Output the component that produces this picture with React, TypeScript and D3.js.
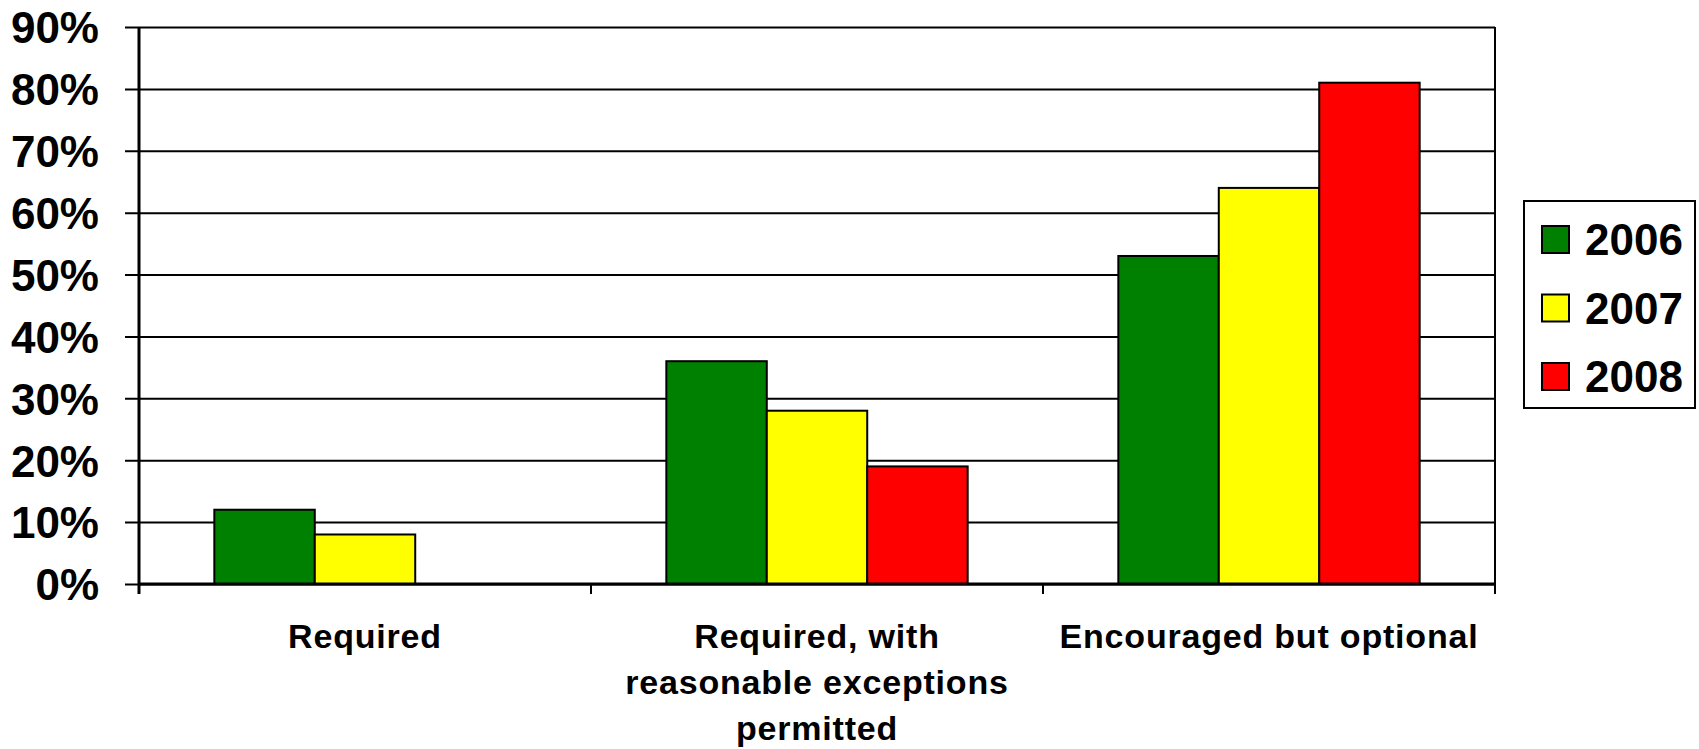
import { useRef, useEffect } from "react";
import { select, scaleBand, scaleLinear, axisLeft, range } from "d3";

// Data
const categories = ["Required", "Required, with reasonable exceptions permitted", "Encouraged but optional"];
const categoryLines = [["Required"], ["Required, with", "reasonable exceptions", "permitted"], ["Encouraged but optional"]];
const years = ["2006", "2007", "2008"];
const values2006 = [12, 36, 53];
const values2007 = [8, 28, 64];
const values2008 = [0, 19, 81];
const yTicks = [0, 10, 20, 30, 40, 50, 60, 70, 80, 90];
const colors = ["#008000", "#ffff00", "#ff0000"];

const W = 1699;
const H = 749;
const FONT = "'Liberation Sans', Arial, sans-serif";

export default function App() {
  const svgRef = useRef<SVGSVGElement | null>(null);

  useEffect(() => {
    const svg = select(svgRef.current);
    svg.selectAll("*").remove();

    const left = 139;
    const right = 1495;
    const top = 27;
    const bottom = 584;

    // Scales
    const x0 = scaleBand<string>().domain(categories).range([left, right]).paddingInner(0).paddingOuter(0);
    const x1 = scaleBand<string>().domain(years).range([0, x0.bandwidth()]).paddingInner(0).paddingOuter(0.75);
    const y = scaleLinear().domain([0, 90]).range([bottom, top]);

    // Gridlines + y ticks
    const yAxis = axisLeft(y)
      .tickValues(yTicks)
      .tickSize(-(right - left))
      .tickSizeOuter(0)
      .tickFormat((d) => `${d}%`);
    const gy = svg.append("g").attr("transform", `translate(${left},0)`).call(yAxis);
    gy.select(".domain").remove();
    gy.selectAll(".tick line").attr("stroke", "#000").attr("stroke-width", 2).attr("x1", -14);
    gy.selectAll(".tick text")
      .attr("x", -40)
      .attr("dy", "0.36em")
      .attr("fill", "#000")
      .attr("font-family", FONT)
      .attr("font-weight", "bold")
      .attr("font-size", 44);

    // Bars
    const seriesValues = [values2006, values2007, values2008];
    const barData = categories.flatMap((c, ci) =>
      years.map((yr, si) => ({ c, yr, si, v: seriesValues[si][ci] }))
    ).filter((d) => d.v > 0);

    svg
      .append("g")
      .selectAll("rect")
      .data(barData)
      .join("rect")
      .attr("x", (d) => x0(d.c)! + x1(d.yr)!)
      .attr("y", (d) => y(d.v))
      .attr("width", x1.bandwidth())
      .attr("height", (d) => y(0) - y(d.v))
      .attr("fill", (d) => colors[d.si])
      .attr("stroke", "#000")
      .attr("stroke-width", 2);

    // Axes lines
    svg.append("line").attr("x1", left).attr("x2", left).attr("y1", top).attr("y2", bottom + 10)
      .attr("stroke", "#000").attr("stroke-width", 3);
    svg.append("line").attr("x1", right).attr("x2", right).attr("y1", top).attr("y2", bottom)
      .attr("stroke", "#000").attr("stroke-width", 2);
    svg.append("line").attr("x1", left).attr("x2", right).attr("y1", bottom).attr("y2", bottom)
      .attr("stroke", "#000").attr("stroke-width", 3);

    // Category boundary ticks
    const boundaries = range(categories.length + 1).map((i) => left + i * x0.step());
    svg.append("g").selectAll("line").data(boundaries).join("line")
      .attr("x1", (d) => d).attr("x2", (d) => d)
      .attr("y1", bottom).attr("y2", bottom + 10)
      .attr("stroke", "#000").attr("stroke-width", 2);

    // Category labels
    const labels = svg.append("g")
      .selectAll("text")
      .data(categories)
      .join("text")
      .attr("x", (d) => x0(d)! + x0.bandwidth() / 2)
      .attr("y", 648)
      .attr("text-anchor", "middle")
      .attr("font-family", FONT)
      .attr("font-weight", "bold")
      .attr("font-size", 34)
      .attr("letter-spacing", 0.8)
      .attr("fill", "#000");
    labels.each(function (d, i) {
      const t = select(this);
      const cx = x0(d)! + x0.bandwidth() / 2;
      categoryLines[i].forEach((ln, li) => {
        t.append("tspan").attr("x", cx).attr("dy", li === 0 ? 0 : 46).text(ln);
      });
    });

    // Legend
    const lg = svg.append("g");
    lg.append("rect").attr("x", 1524).attr("y", 201).attr("width", 171).attr("height", 207)
      .attr("fill", "#fff").attr("stroke", "#000").attr("stroke-width", 2);
    years.forEach((yr, i) => {
      const cy = 239.5 + i * 68.5;
      lg.append("rect").attr("x", 1542).attr("y", cy - 13.5).attr("width", 27).attr("height", 27)
        .attr("fill", colors[i]).attr("stroke", "#000").attr("stroke-width", 2);
      lg.append("text").attr("x", 1585).attr("y", cy).attr("dy", "0.36em")
        .attr("font-family", FONT).attr("font-weight", "bold").attr("font-size", 44)
        .attr("fill", "#000").text(yr);
    });
  }, []);

  return (
    <svg
      ref={svgRef}
      width={W}
      height={H}
      style={{ position: "absolute", left: 0, top: 0, background: "#fff" }}
    />
  );
}
